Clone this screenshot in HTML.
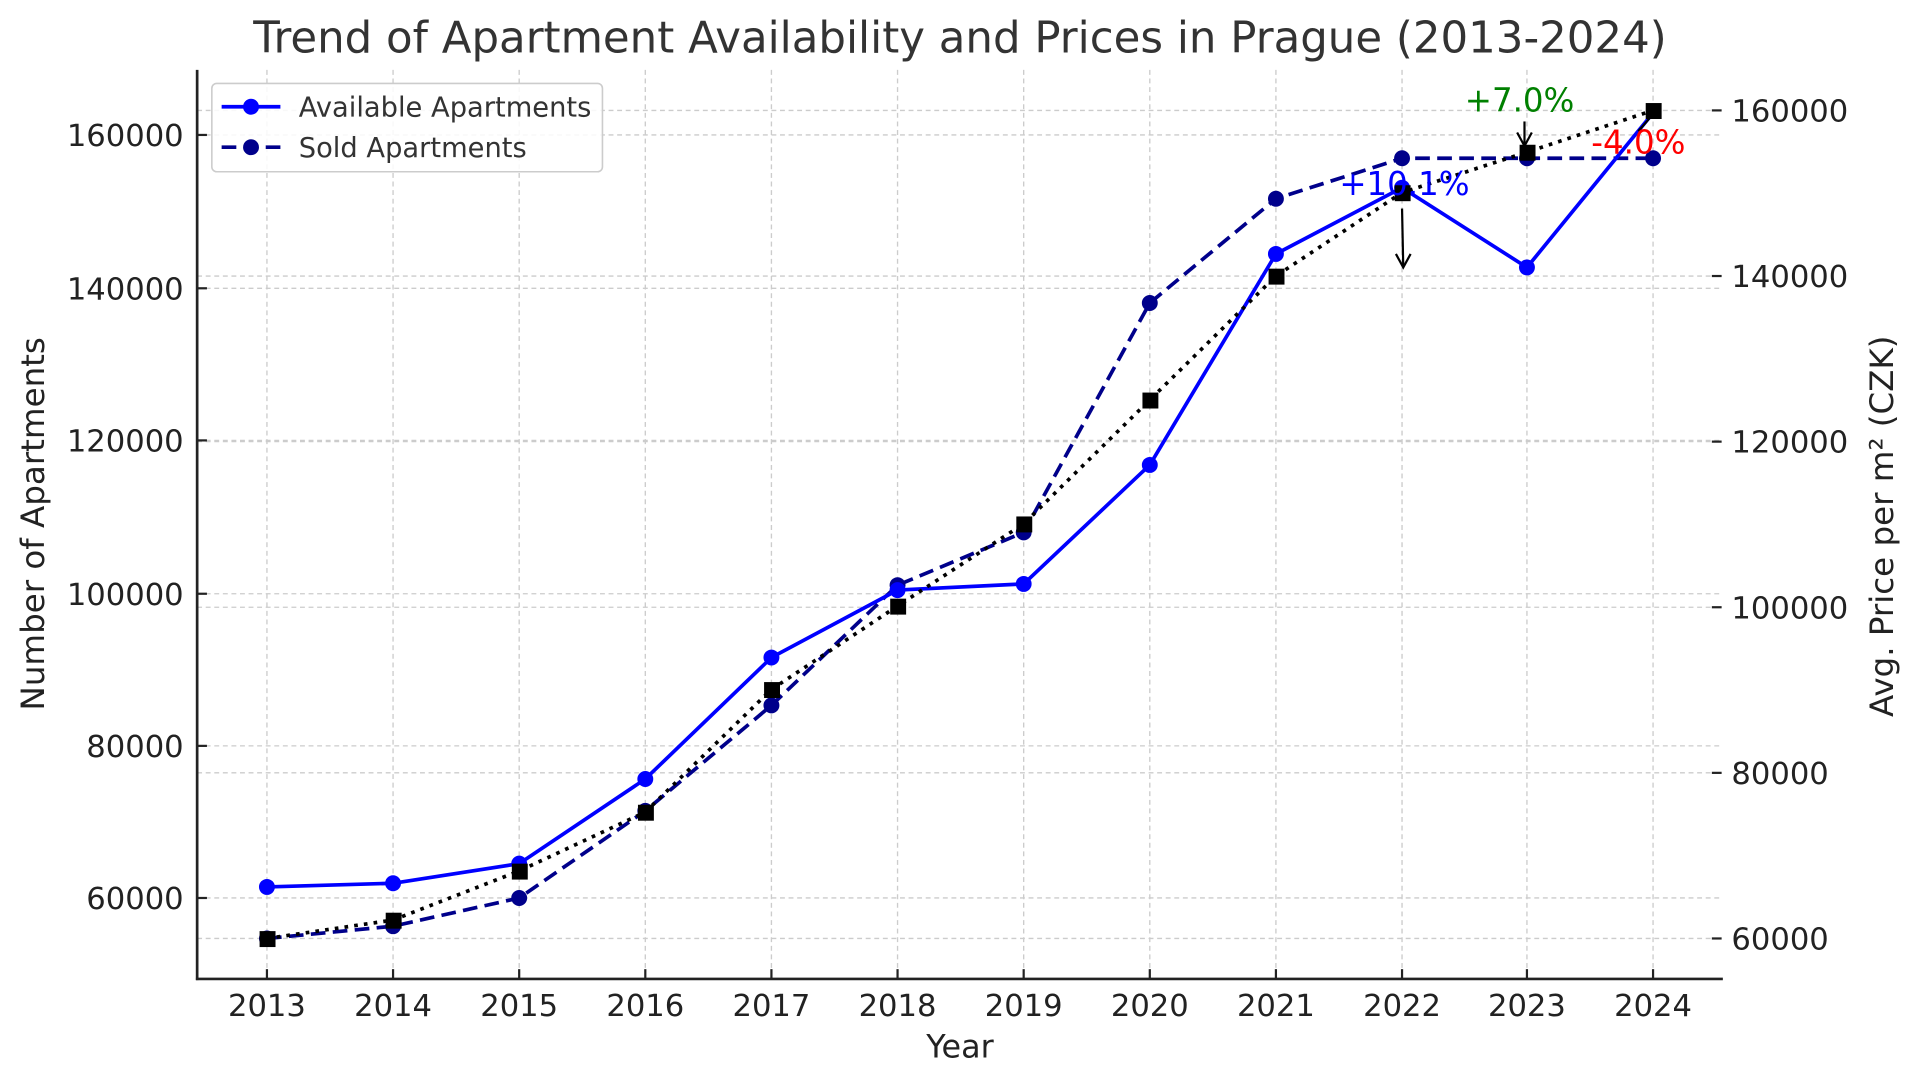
<!DOCTYPE html>
<html><head><meta charset="utf-8"><style>html,body{margin:0;padding:0;background:#fff}svg{display:block}</style></head>
<body>
<svg width="1920" height="1082" viewBox="0 0 1568 882" preserveAspectRatio="none" xmlns="http://www.w3.org/2000/svg" font-family="DejaVu Sans, Liberation Sans, sans-serif">
<rect width="1568" height="882" fill="#fff"/>
<g stroke="#ccc" stroke-width="1.1" stroke-dasharray="4,3">
<line x1="218" y1="57" x2="218" y2="798"/><line x1="321" y1="57" x2="321" y2="798"/><line x1="424" y1="57" x2="424" y2="798"/><line x1="527" y1="57" x2="527" y2="798"/><line x1="630" y1="57" x2="630" y2="798"/><line x1="733" y1="57" x2="733" y2="798"/><line x1="836" y1="57" x2="836" y2="798"/><line x1="939" y1="57" x2="939" y2="798"/><line x1="1042" y1="57" x2="1042" y2="798"/><line x1="1145" y1="57" x2="1145" y2="798"/><line x1="1247" y1="57" x2="1247" y2="798"/><line x1="1350" y1="57" x2="1350" y2="798"/>
<line x1="161" y1="732" x2="1406" y2="732"/><line x1="161" y1="608" x2="1406" y2="608"/><line x1="161" y1="484" x2="1406" y2="484"/><line x1="161" y1="359" x2="1406" y2="359"/><line x1="161" y1="235" x2="1406" y2="235"/><line x1="161" y1="110" x2="1406" y2="110"/>
<line x1="161" y1="765" x2="1406" y2="765"/><line x1="161" y1="630" x2="1406" y2="630"/><line x1="161" y1="495" x2="1406" y2="495"/><line x1="161" y1="360" x2="1406" y2="360"/><line x1="161" y1="225" x2="1406" y2="225"/><line x1="161" y1="90" x2="1406" y2="90"/>
</g>
<g stroke="#222" stroke-width="1.8">
<line x1="161" y1="732" x2="169" y2="732"/><line x1="161" y1="608" x2="169" y2="608"/><line x1="161" y1="484" x2="169" y2="484"/><line x1="161" y1="359" x2="169" y2="359"/><line x1="161" y1="235" x2="169" y2="235"/><line x1="161" y1="110" x2="169" y2="110"/>
<line x1="1398" y1="765" x2="1406" y2="765"/><line x1="1398" y1="630" x2="1406" y2="630"/><line x1="1398" y1="495" x2="1406" y2="495"/><line x1="1398" y1="360" x2="1406" y2="360"/><line x1="1398" y1="225" x2="1406" y2="225"/><line x1="1398" y1="90" x2="1406" y2="90"/>
<line x1="218" y1="798" x2="218" y2="790"/><line x1="321" y1="798" x2="321" y2="790"/><line x1="424" y1="798" x2="424" y2="790"/><line x1="527" y1="798" x2="527" y2="790"/><line x1="630" y1="798" x2="630" y2="790"/><line x1="733" y1="798" x2="733" y2="790"/><line x1="836" y1="798" x2="836" y2="790"/><line x1="939" y1="798" x2="939" y2="790"/><line x1="1042" y1="798" x2="1042" y2="790"/><line x1="1145" y1="798" x2="1145" y2="790"/><line x1="1247" y1="798" x2="1247" y2="790"/><line x1="1350" y1="798" x2="1350" y2="790"/>
</g>
<line x1="161" y1="57" x2="161" y2="799" stroke="#222" stroke-width="2.2"/>
<line x1="160" y1="798" x2="1407" y2="798" stroke="#222" stroke-width="2.2"/>
<!-- sold -->
<polyline fill="none" stroke="#00008b" stroke-width="3" stroke-dasharray="12,6" points="218,765 321,755 424,732 527,661 630,575 733,477 836,434 939,247 1042,162 1145,129 1247,129 1350,129"/>
<g fill="#00008b"><circle cx="218" cy="765" r="6.5"/><circle cx="321" cy="755" r="6.5"/><circle cx="424" cy="732" r="6.5"/><circle cx="527" cy="661" r="6.5"/><circle cx="630" cy="575" r="6.5"/><circle cx="733" cy="477" r="6.5"/><circle cx="836" cy="434" r="6.5"/><circle cx="939" cy="247" r="6.5"/><circle cx="1042" cy="162" r="6.5"/><circle cx="1145" cy="129" r="6.5"/><circle cx="1247" cy="129" r="6.5"/><circle cx="1350" cy="129" r="6.5"/></g>
<!-- available -->
<polyline fill="none" stroke="#0000ff" stroke-width="3" points="218,723 321,720 424,704 527,635 630,536 733,481 836,476 939,379 1042,207 1145,153 1247,218 1350,92"/>
<g fill="#0000ff"><circle cx="218" cy="723" r="6.5"/><circle cx="321" cy="720" r="6.5"/><circle cx="424" cy="704" r="6.5"/><circle cx="527" cy="635" r="6.5"/><circle cx="630" cy="536" r="6.5"/><circle cx="733" cy="481" r="6.5"/><circle cx="836" cy="476" r="6.5"/><circle cx="939" cy="379" r="6.5"/><circle cx="1042" cy="207" r="6.5"/><circle cx="1145" cy="153" r="6.5"/><circle cx="1247" cy="218" r="6.5"/></g>
<!-- price -->
<polyline fill="none" stroke="#000" stroke-width="3" stroke-dasharray="3,5" points="218,765 321,750 424,710 527,662 630,562 733,494 836,427 939,326 1042,225 1145,157 1247,124 1350,90"/>
<g fill="#000"><rect x="212" y="759" width="13" height="13"/><rect x="315" y="744" width="13" height="13"/><rect x="418" y="704" width="13" height="13"/><rect x="521" y="656" width="13" height="13"/><rect x="624" y="556" width="13" height="13"/><rect x="727" y="488" width="13" height="13"/><rect x="830" y="421" width="13" height="13"/><rect x="933" y="320" width="13" height="13"/><rect x="1036" y="219" width="13" height="13"/><rect x="1139" y="151" width="13" height="13"/><rect x="1241" y="118" width="13" height="13"/><rect x="1344" y="84" width="13" height="13"/></g>
<!-- annotations -->
<g stroke="#000" stroke-width="1.8" fill="none">
<line x1="1145" y1="170" x2="1146" y2="218"/><polyline points="1140,207 1146,218 1152,207"/>
<line x1="1245" y1="99" x2="1245" y2="119"/><polyline points="1239,108 1245,119 1251,108"/>
<line x1="1338" y1="107" x2="1350" y2="93"/>
</g>
<g font-size="26.5">
<text x="1147" y="159" fill="#0000ff" text-anchor="middle">+10.1%</text>
<text x="1241" y="91" fill="#008000" text-anchor="middle">+7.0%</text>
<text x="1338" y="125" fill="#ff0000" text-anchor="middle">-4.0%</text>
</g>
<g font-size="25" fill="#222" text-anchor="end">
<text x="150" y="741">60000</text><text x="150" y="617">80000</text><text x="150" y="493">100000</text><text x="150" y="368">120000</text><text x="150" y="244">140000</text><text x="150" y="119">160000</text>
</g>
<g font-size="25" fill="#222">
<text x="1414" y="774">60000</text><text x="1414" y="639">80000</text><text x="1414" y="504">100000</text><text x="1414" y="369">120000</text><text x="1414" y="234">140000</text><text x="1414" y="99">160000</text>
</g>
<g font-size="25" fill="#222" text-anchor="middle">
<text x="218" y="828">2013</text><text x="321" y="828">2014</text><text x="424" y="828">2015</text><text x="527" y="828">2016</text><text x="630" y="828">2017</text><text x="733" y="828">2018</text><text x="836" y="828">2019</text><text x="939" y="828">2020</text><text x="1042" y="828">2021</text><text x="1145" y="828">2022</text><text x="1247" y="828">2023</text><text x="1350" y="828">2024</text>
</g>
<text x="784" y="862" font-size="26" fill="#222" text-anchor="middle">Year</text>
<text transform="translate(36,427) rotate(-90)" font-size="26.5" fill="#222" text-anchor="middle">Number of Apartments</text>
<text transform="translate(1546,429) rotate(-90)" font-size="26.5" fill="#222" text-anchor="middle">Avg. Price per m² (CZK)</text>
<text x="784" y="43" font-size="35.5" fill="#333" text-anchor="middle">Trend of Apartment Availability and Prices in Prague (2013-2024)</text>
<!-- legend -->
<rect x="173" y="68" width="319" height="72" rx="4" fill="#fff" fill-opacity="0.85" stroke="#ccc" stroke-width="1.3"/>
<line x1="181" y1="87" x2="229" y2="87" stroke="#0000ff" stroke-width="3"/><circle cx="205" cy="87" r="6.5" fill="#0000ff"/>
<line x1="181" y1="120" x2="229" y2="120" stroke="#00008b" stroke-width="3" stroke-dasharray="12,6"/><circle cx="205" cy="120" r="6.5" fill="#00008b"/>
<text x="244" y="95" font-size="22.3" fill="#333">Available Apartments</text>
<text x="244" y="128" font-size="22.3" fill="#333">Sold Apartments</text>
</svg>
</body></html>
